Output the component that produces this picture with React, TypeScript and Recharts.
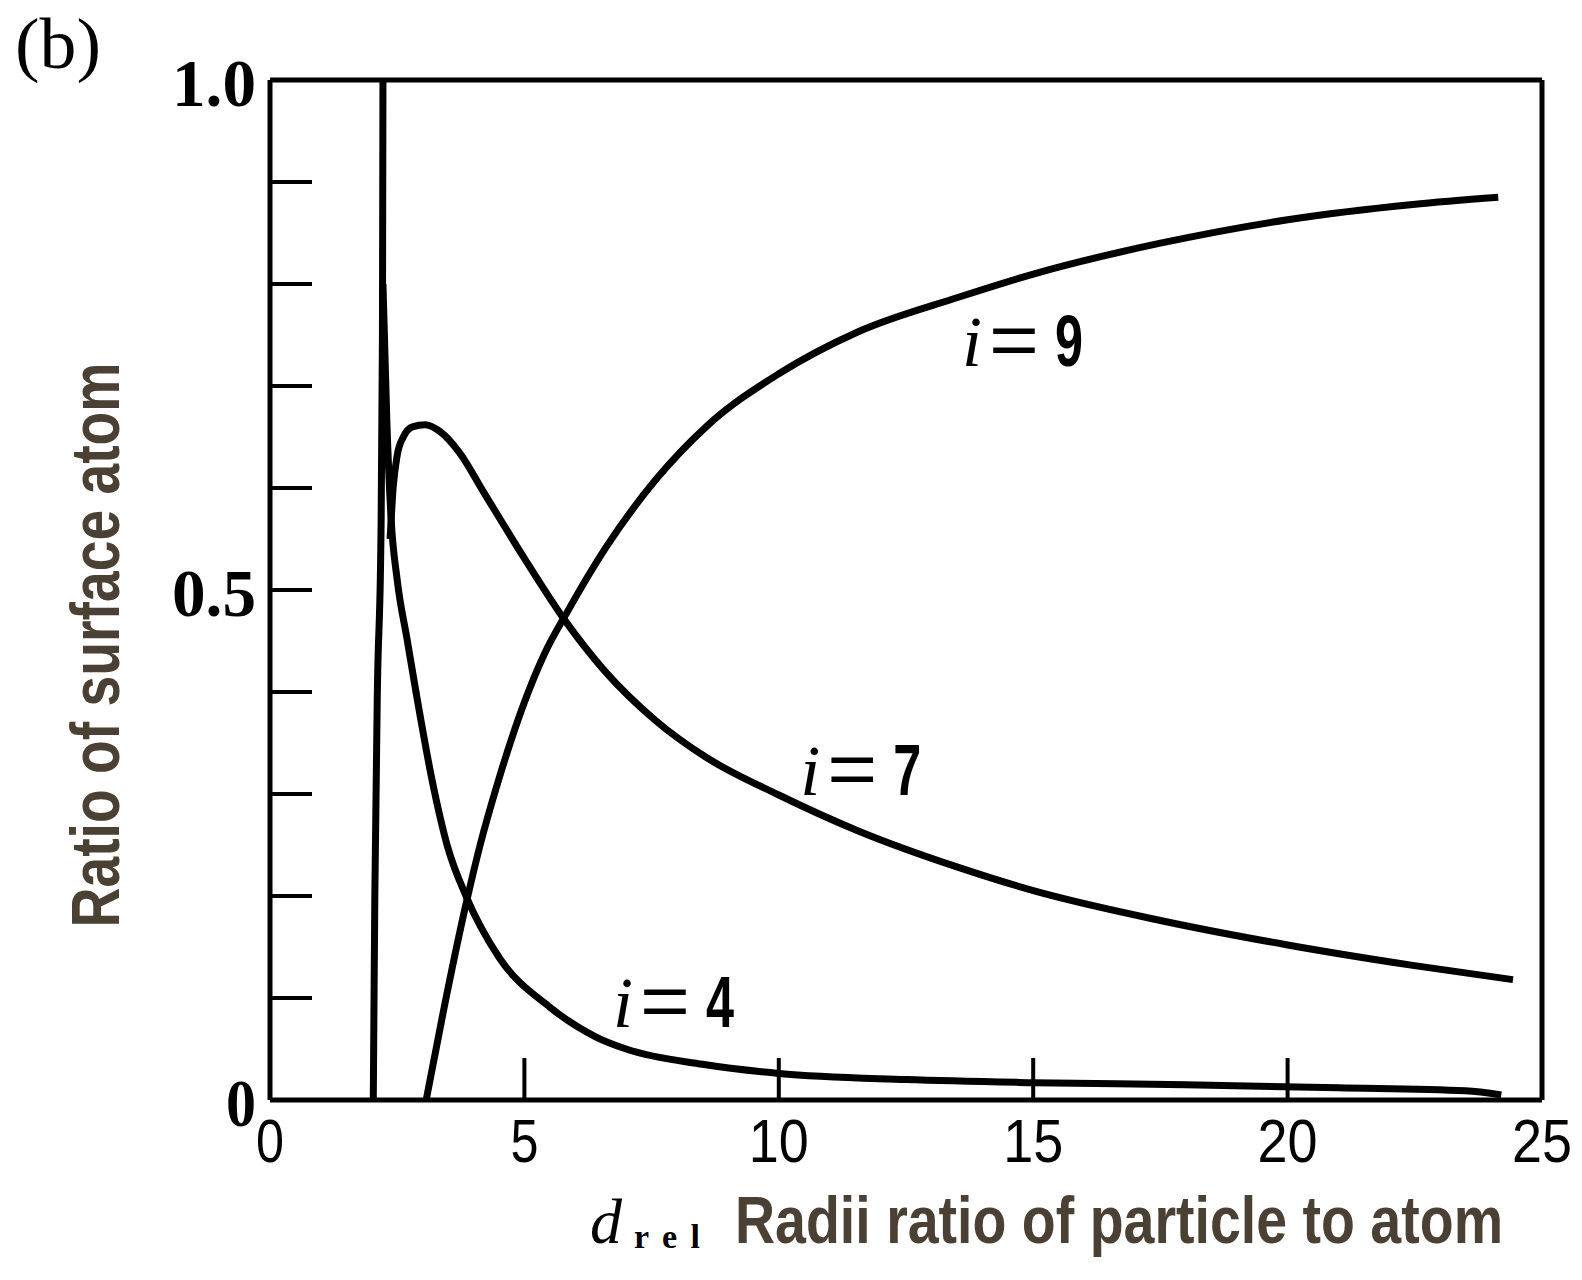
import React from 'react';
import { LineChart, Line, XAxis, YAxis, ReferenceLine, ReferenceDot } from 'recharts';

// d_rel (radii ratio) and surface-atom ratio for each curve
const steepD = [2.03, 2.06, 2.11, 2.18, 2.21, 2.22];
const steepRatio = [0, 0.2, 0.4, 0.55, 0.75, 1.0];

const i4D = [2.22, 2.3, 2.38, 2.5, 2.7, 2.89, 3.2, 3.48, 3.87, 4.5, 5.5, 6.4, 7.0, 8.5, 10, 12.5, 15, 18, 21, 23.5, 24.2];
const i4Ratio = [0.8, 0.66, 0.57, 0.51, 0.45, 0.394, 0.31, 0.25, 0.198, 0.14, 0.091, 0.062, 0.05, 0.035, 0.026, 0.02, 0.017, 0.015, 0.012, 0.009, 0.005];

const i7D = [2.36, 2.42, 2.5, 2.62, 2.8, 3.05, 3.35, 3.72, 4.21, 5.0, 5.8, 6.59, 7.58, 8.57, 10, 11.55, 13.53, 15.02, 17.5, 20, 22.46, 24.43];
const i7Ratio = [0.55, 0.6, 0.632, 0.65, 0.66, 0.662, 0.655, 0.635, 0.595, 0.531, 0.47, 0.42, 0.372, 0.336, 0.299, 0.264, 0.228, 0.205, 0.176, 0.152, 0.132, 0.118];

const i9D = [3.07, 3.4, 3.87, 4.13, 4.5, 5.0, 5.4, 5.86, 6.58, 7.58, 8.57, 10, 11.55, 13.53, 15.02, 17.5, 20, 22.46, 24.14];
const i9Ratio = [0, 0.085, 0.196, 0.25, 0.315, 0.39, 0.438, 0.48, 0.54, 0.608, 0.66, 0.712, 0.753, 0.787, 0.81, 0.84, 0.863, 0.878, 0.885];

const xTicks = [0, 5, 10, 15, 20, 25];
const yTicks = [0, 0.1, 0.2, 0.3, 0.4, 0.5, 0.6, 0.7, 0.8, 0.9, 1.0];
const yLabels: Record<string, string> = { '0': '0', '0.5': '0.5', '1': '1.0' };

const pairs = (d: number[], r: number[]) => d.map((v, i) => ({ d: v, r: r[i] }));

const steepCurve = pairs(steepD, steepRatio);
const curveI4 = pairs(i4D, i4Ratio);
const curveI7 = pairs(i7D, i7Ratio);
const curveI9 = pairs(i9D, i9Ratio);

const W = 1582;
const H = 1280;
const Y_AXIS_W = 60;
const X_AXIS_H = 30;
// plot area runs from x=270 to 1542 and y=80 to 1100
const plotBottom = 1100;
const M = { top: 80, right: 40, bottom: H - plotBottom - X_AXIS_H, left: 270 - Y_AXIS_W };

const sans = "'Liberation Sans', Arial, sans-serif";
const serif = "'Liberation Serif', 'DejaVu Serif', serif";
const titleColor = '#4a4033';

// Arial squeezed horizontally, to look like a narrow face
const NarrowText = (props: any) => {
  const { x, y, width, squeeze = 0.82, rotate = 0, anchor = 'start', children, ...rest } = props;
  const rot = rotate ? ` rotate(${rotate})` : '';
  return (
    <g transform={`translate(${x}, ${y})${rot} scale(${squeeze}, 1)`}>
      <text
        x={0}
        y={0}
        textAnchor={anchor}
        fontFamily={sans}
        textLength={width / squeeze}
        lengthAdjust="spacingAndGlyphs"
        {...rest}
      >
        {children}
      </text>
    </g>
  );
};

const XTick = (props: any) => {
  const { x, y, payload } = props;
  const v = payload.value;
  const inner = v > 0 && v < 25;
  const s = String(v);
  return (
    <g>
      {inner && <line x1={x} y1={y} x2={x} y2={y - 42} stroke="#000" strokeWidth={4} />}
      <NarrowText x={x} y={y + 62} anchor="middle" width={s.length > 1 ? 60 : 28} squeeze={0.8} fontSize={62} fill="#000">
        {s}
      </NarrowText>
    </g>
  );
};

const YTick = (props: any) => {
  const { x, y, payload } = props;
  const v = payload.value;
  const label = yLabels[String(v)];
  const inner = v > 0 && v < 1;
  return (
    <g>
      {inner && <line x1={x} y1={y} x2={x + 42} y2={y} stroke="#000" strokeWidth={4} />}
      {label && (
        <text
          x={x - 14}
          y={y + 26}
          textAnchor="end"
          fontFamily={serif}
          fontWeight="bold"
          fontSize={68}
          textLength={label.length > 1 ? 84 : 30}
          lengthAdjust="spacingAndGlyphs"
          fill="#000"
        >
          {label}
        </text>
      )}
    </g>
  );
};

const CurveTag = (props: any) => {
  const { viewBox, num } = props;
  const x = viewBox.x;
  const y = viewBox.y;
  return (
    <g fill="#000">
      <text x={x} y={y} fontFamily={serif} fontStyle="italic" fontSize={72}>
        i
      </text>
      <text x={x + 27} y={y} fontFamily={sans} fontSize={76} textLength={50} lengthAdjust="spacingAndGlyphs">
        =
      </text>
      <NarrowText x={x + 93} y={y} width={28} squeeze={0.72} fontWeight="bold" fontSize={72}>
        {num}
      </NarrowText>
    </g>
  );
};

// axis titles and panel letter, placed in page pixel coordinates
const YTitle = () => (
  <g>
    <text x={15} y={68} fontFamily={serif} fontSize={72} textLength={86} lengthAdjust="spacingAndGlyphs" fill="#000">
      (b)
    </text>
    <NarrowText x={119} y={645} rotate={-90} anchor="middle" width={565} squeeze={0.84} fontWeight="bold" fontSize={68} fill={titleColor}>
      Ratio of surface atom
    </NarrowText>
  </g>
);

const XTitle = () => (
  <g>
    <text x={590} y={plotBottom + 143} fontFamily={serif} fontStyle="italic" fontSize={64} fill="#000">
      d
    </text>
    <text
      x={634}
      y={plotBottom + 148}
      fontFamily={serif}
      fontWeight="bold"
      fontSize={34}
      textLength={66}
      lengthAdjust="spacing"
      fill="#000"
    >
      rel
    </text>
    <NarrowText x={735} y={plotBottom + 143} width={768} squeeze={0.84} fontWeight="bold" fontSize={66} fill={titleColor}>
      Radii ratio of particle to atom
    </NarrowText>
  </g>
);

const curveProps = {
  dataKey: 'r',
  type: 'monotone' as const,
  stroke: '#000',
  strokeWidth: 7,
  dot: false,
  activeDot: false,
  isAnimationActive: false,
};

export default function App() {
  return (
    <div style={{ position: 'absolute', left: 0, top: 0, width: W, height: H, background: '#fff' }}>
      <LineChart width={W} height={H} margin={M}>
        <XAxis
          dataKey="d"
          type="number"
          domain={[0, 25]}
          ticks={xTicks}
          interval={0}
          height={X_AXIS_H}
          tickSize={0}
          tickMargin={0}
          tickLine={false}
          axisLine={{ stroke: '#000', strokeWidth: 5 }}
          tick={(p: any) => <XTick {...p} />}
          label={() => <XTitle />}
        />
        <YAxis
          type="number"
          domain={[0, 1]}
          ticks={yTicks}
          interval={0}
          width={Y_AXIS_W}
          tickSize={0}
          tickMargin={0}
          tickLine={false}
          axisLine={{ stroke: '#000', strokeWidth: 5 }}
          tick={(p: any) => <YTick {...p} />}
          label={() => <YTitle />}
        />
        <ReferenceLine y={1} stroke="#000" strokeWidth={5} />
        <ReferenceLine x={25} stroke="#000" strokeWidth={5} />
        <Line data={steepCurve} {...curveProps} />
        <Line data={curveI4} {...curveProps} />
        <Line data={curveI7} {...curveProps} />
        <Line data={curveI9} {...curveProps} />
        <ReferenceDot x={13.6} y={0.72} r={0} fill="none" stroke="none" label={(p: any) => <CurveTag {...p} num="9" />} />
        <ReferenceDot x={10.42} y={0.299} r={0} fill="none" stroke="none" label={(p: any) => <CurveTag {...p} num="7" />} />
        <ReferenceDot x={6.74} y={0.072} r={0} fill="none" stroke="none" label={(p: any) => <CurveTag {...p} num="4" />} />
      </LineChart>
    </div>
  );
}
